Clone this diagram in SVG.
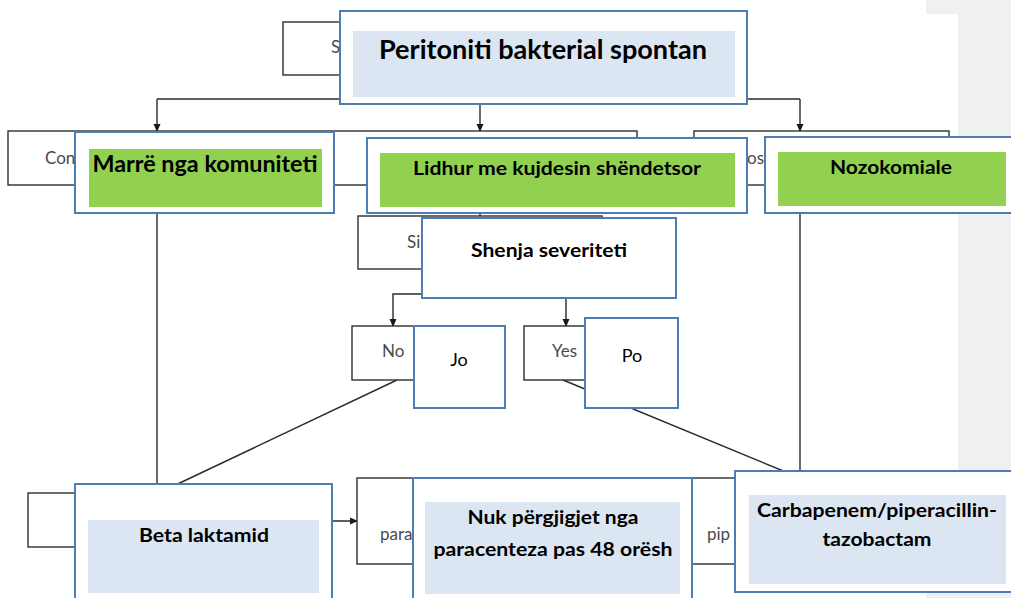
<svg xmlns="http://www.w3.org/2000/svg" width="1011" height="598" viewBox="0 0 1011 598">
<style>
.ul{fill:#ffffff;stroke:#2e2e2e;stroke-width:1.4}
.ov{fill:#ffffff;stroke:#4f7cb3;stroke-width:2}
.g{fill:#92d050}
.b{fill:#dce6f2}
.t{font-family:Lato,"Liberation Sans",sans-serif;font-weight:bold;fill:#000000;text-anchor:middle}
.r{font-family:Lato,"Liberation Sans",sans-serif;font-weight:normal;fill:#000000;text-anchor:middle;font-size:18px}
.f{font-family:Lato,"Liberation Sans",sans-serif;fill:#4a4a4a;font-size:17px}
.c{fill:none;stroke:#2a2a2a;stroke-width:1.4}
</style>
<defs>
<marker id="ah" markerWidth="8" markerHeight="8" refX="7" refY="4" orient="auto" markerUnits="userSpaceOnUse">
<path d="M0,0.5 L8,4 L0,7.5 Z" fill="#1a1a1a"/>
</marker>
</defs>
<rect x="0" y="0" width="1011" height="598" fill="#ffffff"/>
<rect x="926" y="0" width="85" height="598" fill="#f0f0f0"/>
<rect x="926" y="14" width="32" height="578" fill="#ffffff"/>

<g id="connectors">
<path class="c" d="M157,99 L800,99"/>
<path class="c" d="M157,99 L157,131" marker-end="url(#ah)"/>
<path class="c" d="M480,75 L480,131" marker-end="url(#ah)"/>
<path class="c" d="M800,99 L800,131" marker-end="url(#ah)"/>
<path class="c" d="M480,185 L480,216"/>
<path class="c" d="M157,185 L157,493"/>
<path class="c" d="M800,185 L800,478" marker-end="url(#ah)"/>
<path class="c" d="M480,269 L480,294 L393,294 L393,326" marker-end="url(#ah)"/>
<path class="c" d="M480,269 L480,298 L566,298 L566,326" marker-end="url(#ah)"/>
<path class="c" d="M397,380 L165,490"/>
<path class="c" d="M563,380 L798,477"/>
<path class="c" d="M300,521 L357,521" marker-end="url(#ah)"/>
</g>

<g id="en-top"><rect class="ul" x="283" y="22" width="400" height="53"/><text class="f" x="331" y="53">S</text></g>
<g id="en-community"><rect class="ul" x="8" y="131" width="629" height="54"/><text class="f" x="45" y="164">Con</text></g>
<g id="en-nosocomial"><rect class="ul" x="694" y="131" width="255" height="54"/><text class="f" x="747" y="164">os</text></g>
<g id="en-severity"><rect class="ul" x="358" y="216" width="244" height="53"/><text class="f" x="407" y="248">Si</text></g>
<g id="en-no"><rect class="ul" x="352" y="326" width="90" height="54"/><text class="f" x="382" y="357">No</text></g>
<g id="en-yes"><rect class="ul" x="524" y="326" width="90" height="54"/><text class="f" x="552" y="357">Yes</text></g>
<g id="en-beta"><rect class="ul" x="28" y="493" width="272" height="54"/></g>
<g id="en-para"><rect class="ul" x="357" y="478" width="300" height="86"/><text class="f" x="380" y="540">para</text></g>
<g id="en-pip"><rect class="ul" x="680" y="478" width="220" height="86"/><text class="f" x="707" y="540">pip</text></g>

<g id="peritoniti">
<rect class="ov" x="340" y="11" width="407" height="93"/>
<rect class="b" x="353" y="31" width="382" height="66"/>
<text class="t" x="543" y="59" font-size="26" textLength="328" lengthAdjust="spacingAndGlyphs">Peritoniti bakterial spontan</text>
</g>
<g id="komuniteti">
<rect class="ov" x="75" y="132" width="259" height="81"/>
<rect class="g" x="89" y="149" width="233" height="58"/>
<text class="t" x="205" y="172" font-size="22" textLength="225" lengthAdjust="spacingAndGlyphs">Marrë nga komuniteti</text>
</g>
<g id="kujdesin">
<rect class="ov" x="367" y="138" width="380" height="75"/>
<rect class="g" x="380" y="153" width="355" height="54"/>
<text class="t" x="557" y="175" font-size="19" textLength="288" lengthAdjust="spacingAndGlyphs">Lidhur me kujdesin shëndetsor</text>
</g>
<g id="nozokomiale">
<rect class="ov" x="765" y="137" width="260" height="76"/>
<rect class="g" x="778" y="152" width="228" height="54"/>
<text class="t" x="891" y="174" font-size="19" textLength="122" lengthAdjust="spacingAndGlyphs">Nozokomiale</text>
</g>
<g id="severiteti">
<rect class="ov" x="422" y="218" width="254" height="80"/>
<text class="t" x="549" y="257" font-size="18" textLength="156" lengthAdjust="spacingAndGlyphs">Shenja severiteti</text>
</g>
<g id="jo">
<rect class="ov" x="414" y="326" width="91" height="82"/>
<text class="r" x="459" y="366">Jo</text>
</g>
<g id="po">
<rect class="ov" x="585" y="318" width="93" height="90"/>
<text class="r" x="632" y="362">Po</text>
</g>
<g id="beta">
<rect class="ov" x="75" y="484" width="257" height="130"/>
<rect class="b" x="88" y="520" width="231" height="73"/>
<text class="t" x="204" y="542" font-size="18" textLength="130" lengthAdjust="spacingAndGlyphs">Beta laktamid</text>
</g>
<g id="nuk">
<rect class="ov" x="413" y="478" width="279" height="130"/>
<rect class="b" x="425" y="502" width="255" height="92"/>
<text class="t" x="553" y="524" font-size="18" textLength="171" lengthAdjust="spacingAndGlyphs">Nuk përgjigjet nga</text>
<text class="t" x="553" y="556" font-size="18" textLength="239" lengthAdjust="spacingAndGlyphs">paracenteza pas 48 orësh</text>
</g>
<g id="carbapenem">
<rect class="ov" x="735" y="471" width="290" height="121"/>
<rect class="b" x="749" y="495" width="257" height="89"/>
<text class="t" x="877" y="517" font-size="18" textLength="240" lengthAdjust="spacingAndGlyphs">Carbapenem/piperacillin-</text>
<text class="t" x="877" y="546" font-size="18" textLength="109" lengthAdjust="spacingAndGlyphs">tazobactam</text>
</g>
</svg>
